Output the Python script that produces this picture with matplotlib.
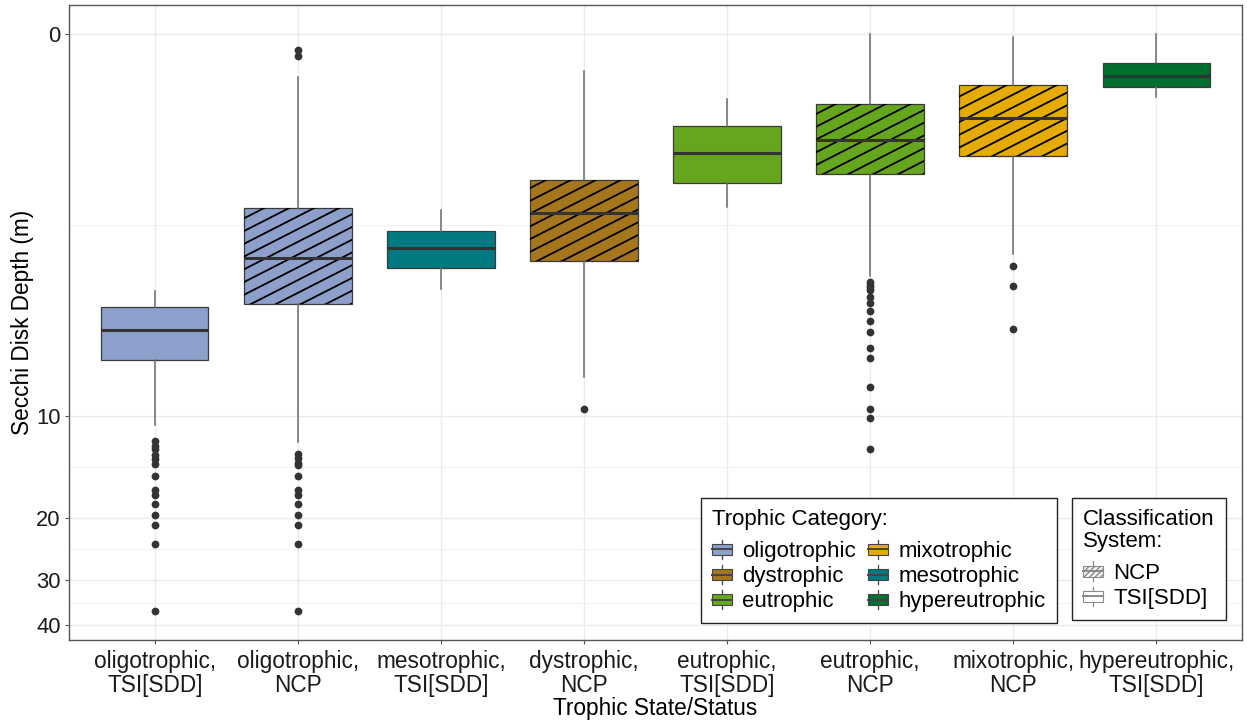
import numpy as np
import matplotlib
matplotlib.use("Agg")
import matplotlib.pyplot as plt
from matplotlib.patches import Rectangle
from matplotlib.lines import Line2D
from matplotlib.legend_handler import HandlerBase

plt.rcParams['font.family'] = ['Liberation Sans', 'DejaVu Sans']

# --- data: Secchi depth (m) box stats --- #
labels = ["oligotrophic,\nTSI[SDD]", "oligotrophic,\nNCP", "mesotrophic,\nTSI[SDD]",
          "dystrophic,\nNCP", "eutrophic,\nTSI[SDD]", "eutrophic,\nNCP",
          "mixotrophic,\nNCP", "hypereutrophic,\nTSI[SDD]"]
trophic = ["oligotrophic", "oligotrophic", "mesotrophic", "dystrophic",
           "eutrophic", "eutrophic", "mixotrophic", "hypereutrophic"]
system = ["TSI[SDD]", "NCP", "TSI[SDD]", "NCP", "TSI[SDD]", "NCP", "NCP", "TSI[SDD]"]

whisk_top = [4.02, 0.31, 2.02, 0.26, 0.51, 0.0, 0.02, 0.0]
q1 = [4.57, 1.98, 2.46, 1.51, 0.78, 0.55, 0.38, 0.20]
med = [5.41, 3.09, 2.85, 2.09, 1.11, 0.95, 0.70, 0.30]
q3 = [6.74, 4.45, 3.36, 3.16, 1.55, 1.41, 1.16, 0.40]
whisk_bot = [10.7, 12.0, 3.98, 7.65, 1.96, 3.59, 2.98, 0.49]
outliers = [
    [11.9, 12.3, 12.6, 13.1, 13.5, 13.9, 15.1, 16.6, 17.1, 18.2, 19.5, 20.9, 23.6, 36.6],
    [0.11, 0.15, 13.0, 13.4, 13.8, 14.0, 15.1, 16.6, 17.1, 18.2, 19.5, 20.9, 23.6, 36.6],
    [],
    [9.55],
    [],
    [3.76, 3.83, 3.91, 4.0, 4.21, 4.43, 4.71, 5.09, 5.52, 6.21, 6.65, 8.21, 9.59, 10.16, 12.56],
    [3.31, 3.89, 5.39],
    [],
]

legend_order = ["oligotrophic", "dystrophic", "eutrophic", "mixotrophic", "mesotrophic", "hypereutrophic"]
colors = {"oligotrophic": "#8DA0CB", "dystrophic": "#A6761D", "eutrophic": "#66A61E",
          "mixotrophic": "#E6AB02", "mesotrophic": "#007A80", "hypereutrophic": "#006E2E"}

yticks = [0, 10, 20, 30, 40]

# --- figure --- #
fig = plt.figure(figsize=(12.47, 7.21), dpi=100)
ax = fig.add_axes([69/1247, 81/721, 1173/1247, 635/721])

tr = np.log1p  # y is drawn on a log(x + 1) scale, reversed
stats = []
for i in range(len(labels)):
    stats.append(dict(med=tr(med[i]), q1=tr(q1[i]), q3=tr(q3[i]),
                      whislo=tr(whisk_top[i]), whishi=tr(whisk_bot[i]),
                      fliers=tr(np.array(outliers[i]))))

pos = np.arange(1, len(labels) + 1)
bp = ax.bxp(stats, positions=pos, widths=0.75, patch_artist=True, showcaps=False,
            boxprops=dict(edgecolor='#3a3a3a', linewidth=0.9),
            whiskerprops=dict(color='#6a6a6a', linewidth=1.1),
            medianprops=dict(color='#333333', linewidth=2.2),
            flierprops=dict(marker='o', markerfacecolor='#333333', markeredgewidth=0,
                            markersize=5.6, linestyle='none'))

for patch, t in zip(bp['boxes'], trophic):
    patch.set_facecolor(colors[t])
    patch.set_zorder(2)
for m in bp['medians']:
    m.set_zorder(4)

# limits like ggplot (5% expansion on transformed scale)
all_t = np.concatenate([tr(np.array(whisk_top))] + [s['fliers'] for s in stats])
lo, hi = 0.0, max(all_t.max(), tr(max(whisk_bot)))
pad = 0.05 * (hi - lo)
ax.set_xlim(0.4, len(labels) + 0.6)
ax.set_ylim(hi + pad, lo - pad)

# --- stripes on NCP boxes (about 27 degrees) --- #
slope = 0.51
hstep = 25.0
inv = ax.transData.inverted()
for patch, s in zip(bp['boxes'], system):
    if s != "NCP":
        continue
    ext = patch.get_path().transformed(patch.get_transform()).get_extents()
    x0, x1, y0, y1 = ext.x0, ext.x1, ext.y0, ext.y1
    dc = slope * hstep
    c = y0 - slope * x1
    while c < y1 - slope * x0:
        px = np.array([x0 - 5, x1 + 5])
        py = slope * px + c
        pts = inv.transform(np.column_stack([px, py]))
        ln, = ax.plot(pts[:, 0], pts[:, 1], color='black', lw=1.3, zorder=3)
        ln.set_clip_path(patch)
        c += dc

# --- axes styling --- #
ax.set_xticks(pos)
ax.set_xticklabels(labels, fontsize=16.3, color='#1a1a1a', linespacing=1.05)
ax.set_yticks(tr(np.array(yticks)))
ax.set_yticklabels([str(v) for v in yticks], fontsize=15.8, color='#1a1a1a')
maj = tr(np.array(yticks, dtype=float))
ax.set_yticks((maj[:-1] + maj[1:]) / 2, minor=True)
ax.tick_params(axis='both', which='major', length=3, width=0.8, color='#555555', pad=3)
ax.tick_params(axis='x', which='major', pad=4.5)
ax.tick_params(axis='y', which='minor', length=0)

ax.grid(which='major', color='#EBEBEB', linewidth=1.0)
ax.grid(which='minor', axis='y', color='#F2F2F2', linewidth=0.8)
ax.set_axisbelow(True)
for sp in ax.spines.values():
    sp.set_color('#555555')
    sp.set_linewidth(1.0)

ax.set_xlabel("Trophic State/Status", fontsize=16.3, labelpad=0)
ax.set_ylabel("Secchi Disk Depth (m)", fontsize=16.3, labelpad=1.5)


# --- legends with mini boxplot keys --- #
class BoxKey(HandlerBase):
    def create_artists(self, legend, orig, xd, yd, w, h, fs, trans):
        x0, y0 = -xd, -yd
        cx = x0 + w / 2
        ec = orig.get_edgecolor()
        whisk = Line2D([cx, cx], [y0 - 0.05 * h, y0 + 1.05 * h], color=ec, lw=0.9)
        box = Rectangle((x0, y0 + 0.18 * h), w, 0.64 * h, facecolor=orig.get_facecolor(),
                        edgecolor=ec, hatch=orig.get_hatch(), lw=0.8)
        medl = Line2D([x0, x0 + w], [y0 + 0.5 * h] * 2, color=ec, lw=1.4)
        for a in (whisk, box, medl):
            a.set_transform(trans)
        return [whisk, box, medl]


cat_handles = [Rectangle((0, 0), 1, 1, facecolor=colors[k], edgecolor='#444444') for k in legend_order]
sys_handles = [Rectangle((0, 0), 1, 1, facecolor='#f4f4f4', edgecolor='#8a8a8a', hatch='//////'),
               Rectangle((0, 0), 1, 1, facecolor='white', edgecolor='#8a8a8a')]

common = dict(handler_map={Rectangle: BoxKey()}, loc='upper left', borderaxespad=0,
              fancybox=False, framealpha=1, edgecolor='#222222', fontsize=16,
              title_fontsize=16, alignment='left', handlelength=0.9, handleheight=0.85,
              handletextpad=0.46, labelspacing=0.16, borderpad=0.5,
              bbox_transform=fig.transFigure)

leg1 = fig.legend(cat_handles, legend_order, title="Trophic Category:", ncol=2,
                  columnspacing=0.55, bbox_to_anchor=(701/1247, 1 - 498/721), **common)
leg2 = fig.legend(sys_handles, ["NCP", "TSI[SDD]"], title="Classification\nSystem:",
                  bbox_to_anchor=(1072/1247, 1 - 498/721), **common)
for lg in (leg1, leg2):
    lg.get_frame().set_linewidth(1.0)
    lg._legend_box.sep = 7.5
    lg.get_title().set_linespacing(1.05)

fig.savefig("out.png", dpi=100)
